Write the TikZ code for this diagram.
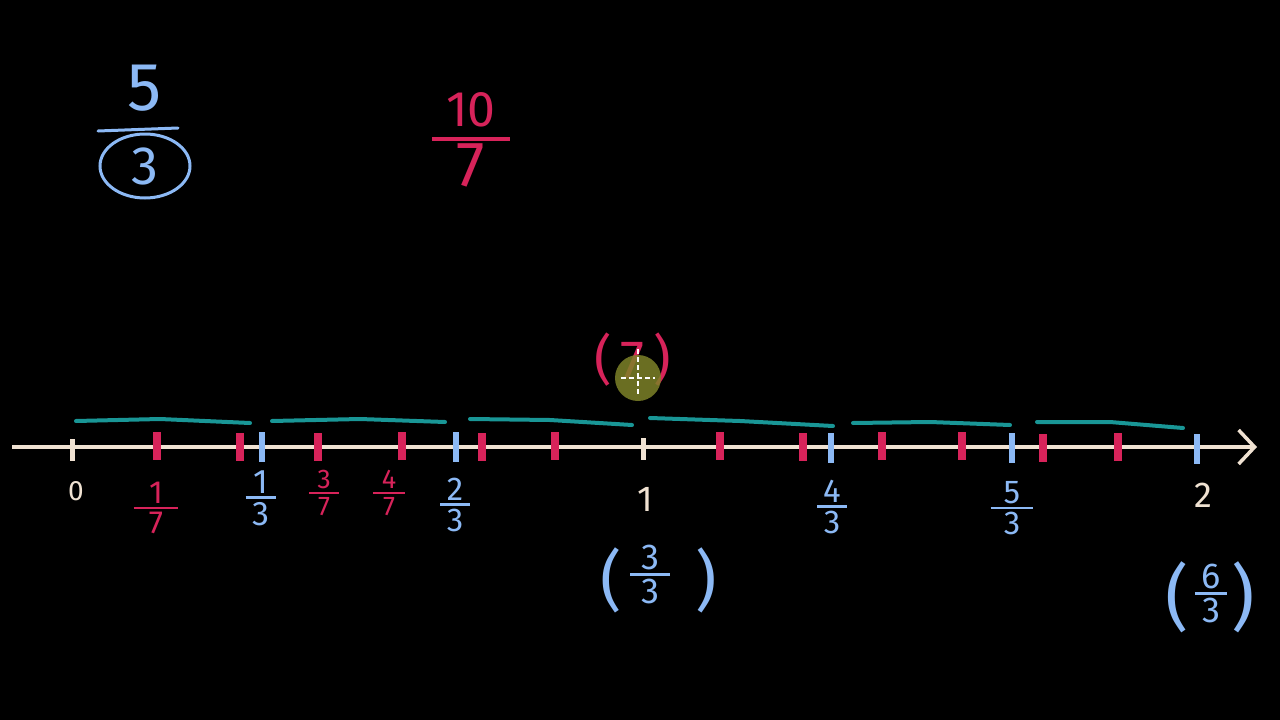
\documentclass[tikz,border=0pt]{standalone}
\usepackage{fontspec}
\setmainfont{Fira Sans}
\usetikzlibrary{arrows.meta, positioning, shapes.geometric}
\definecolor{boardblack}{RGB}{0,0,0}
\definecolor{chalk}{RGB}{240,226,210}
\definecolor{thirdblue}{RGB}{140,185,245}
\definecolor{seventhred}{RGB}{215,35,90}
\definecolor{spanteal}{RGB}{25,150,150}
\definecolor{cursorolive}{RGB}{125,130,40}
\newcommand{\hfrac}[3][0.9em]{\shortstack{#2\\\rule{#1}{0.08em}\\#3}}
\newcommand{\bigparen}[2]{{\fontsize{#1}{#1}\selectfont #2}}
\tikzset{
  base/.style      = {inner sep=0pt, align=center},
  notch/.style     = {rectangle, inner sep=0pt, minimum width=5pt, minimum height=26pt},
  chalktick/.style = {notch, fill=chalk, minimum height=22pt},
  bluetick/.style  = {notch, fill=thirdblue, minimum width=6pt, minimum height=30pt},
  redtick/.style   = {notch, fill=seventhred, minimum width=8pt, minimum height=28pt},
  chalklbl/.style  = {base, text=chalk},
  bluelbl/.style   = {base, text=thirdblue},
  redlbl/.style    = {base, text=seventhred},
  axis/.style      = {draw=chalk, line width=3.5pt, -{Straight Barb[length=16pt, width=34pt]}},
  span/.style      = {draw=spanteal, line width=4pt, line cap=round},
  bar/.style       = {draw=thirdblue, line width=3pt, line cap=round},
  circled/.style   = {base, ellipse, draw=thirdblue, line width=3pt, text=thirdblue,
                      minimum width=90pt, minimum height=64pt},
  pointer/.style   = {circle, fill=cursorolive, fill opacity=0.85, minimum size=46pt, inner sep=0pt},
  hair/.style      = {draw=white, line width=1.5pt, dash pattern=on 5pt off 3pt},
}

\begin{document}
\begin{tikzpicture}[x=1pt, y=-1pt]
  % Board
  \fill[boardblack] (0,0) rectangle (1280,720);
  \useasboundingbox (0,0) rectangle (1280,720);

  % Fractions on top
  \node[bluelbl, font=\fontsize{68}{68}\selectfont] (fivenum) at (145,88) {5};
  \node[circled, font=\fontsize{54}{54}\selectfont] (threeden) at (145,166) {3};
  \draw[bar] (98,131) -- (178,128);
  \node[redlbl, font=\fontsize{50}{50}\selectfont] (tensevenths) at (471,140)
       {\hfrac[1.55em]{10\\[4pt]}{\fontsize{64}{64}\selectfont 7}};

  % Number line
  \coordinate (linestart) at (12,447);
  \coordinate (lineend) at (1257,447);
  \draw[axis] (linestart) -- (lineend);

  % Thirds spans
  \draw[span] (76,421) -- (160,419) -- (250,423);
  \draw[span] (272,421) -- (360,419) -- (445,422);
  \draw[span] (470,419) -- (550,420) -- (632,425);
  \draw[span] (650,418) -- (740,421) -- (833,426);
  \draw[span] (853,423) -- (930,422) -- (1010,425);
  \draw[span] (1037,422) -- (1110,422) -- (1183,428);

  % Ticks
  \node[chalktick] (zero) at (72,450) {};
  \node[chalktick] (one)  at (643,449) {};
  \node[bluetick] (third1) at (262,447) {};
  \node[bluetick] (third2) at (456,447) {};
  \node[bluetick] (third4) at (831,448) {};
  \node[bluetick] (third5) at (1012,448) {};
  \node[bluetick] (two)    at (1197,449) {};
  \node[redtick] (r1)  at (157,446) {};
  \node[redtick] (r2)  at (240,447) {};
  \node[redtick] (r3)  at (318,447) {};
  \node[redtick] (r4)  at (402,446) {};
  \node[redtick] (r5)  at (482,447) {};
  \node[redtick] (r6)  at (555,446) {};
  \node[redtick] (r7)  at (720,446) {};
  \node[redtick] (r8)  at (803,447) {};
  \node[redtick] (r9)  at (882,446) {};
  \node[redtick] (r10) at (962,446) {};
  \node[redtick] (r11) at (1043,448) {};
  \node[redtick] (r12) at (1118,447) {};

  % Labels under the line
  \node[chalklbl, font=\fontsize{28}{28}\selectfont] (zerolbl) at (76,491) {0};
  \node[chalklbl, font=\fontsize{36}{36}\selectfont] (onelbl)  at (645,499) {1};
  \node[chalklbl, font=\fontsize{36}{36}\selectfont] (twolbl)  at (1203,495) {2};
  \node[redlbl, font=\fontsize{32}{32}\selectfont] (oneseventh) at (156,508) {\hfrac[1.4em]{1}{7}};
  \node[redlbl, font=\fontsize{27}{27}\selectfont] (threesevenths) at (324,493) {\hfrac[1.1em]{3}{7}};
  \node[redlbl, font=\fontsize{27}{27}\selectfont] (foursevenths)  at (389,493) {\hfrac[1.2em]{4}{7}};
  \node[bluelbl, font=\fontsize{34}{34}\selectfont] (onethird)   at (261,498) {\hfrac{1}{3}};
  \node[bluelbl, font=\fontsize{33}{33}\selectfont] (twothirds)  at (455,505) {\hfrac{2}{3}};
  \node[bluelbl, font=\fontsize{33}{33}\selectfont] (fourthirds) at (832,507) {\hfrac{4}{3}};
  \node[bluelbl, font=\fontsize{33}{33}\selectfont] (fivethirds) at (1012,508) {\hfrac[1.3em]{5}{3}};

  % Equivalent forms
  \node[bluelbl, font=\fontsize{36}{36}\selectfont, below=34pt of onelbl, xshift=14pt] (threethirds)
       {\bigparen{66}{(}\hspace{8pt}\hfrac[1.1em]{3}{3}\hspace{26pt}\bigparen{66}{)}};
  \node[bluelbl, font=\fontsize{36}{36}\selectfont] (sixthirds) at (1210,597)
       {\bigparen{72}{(}\hspace{6pt}\hfrac[0.9em]{6}{3}\hspace{4pt}\bigparen{72}{)}};

  % Seven sevenths with pointer
  \node[redlbl, font=\fontsize{54}{54}\selectfont] (sevensevenths) at (633,360) {(\,7\,)};
  \node[pointer] (cursor) at (638,378) {};
  \draw[hair] (cursor.west) ++(6pt,0) -- ([xshift=-6pt]cursor.east);
  \draw[hair] (cursor.north) ++(0,6pt) -- ([yshift=6pt]cursor.south);

\end{tikzpicture}
\end{document}
